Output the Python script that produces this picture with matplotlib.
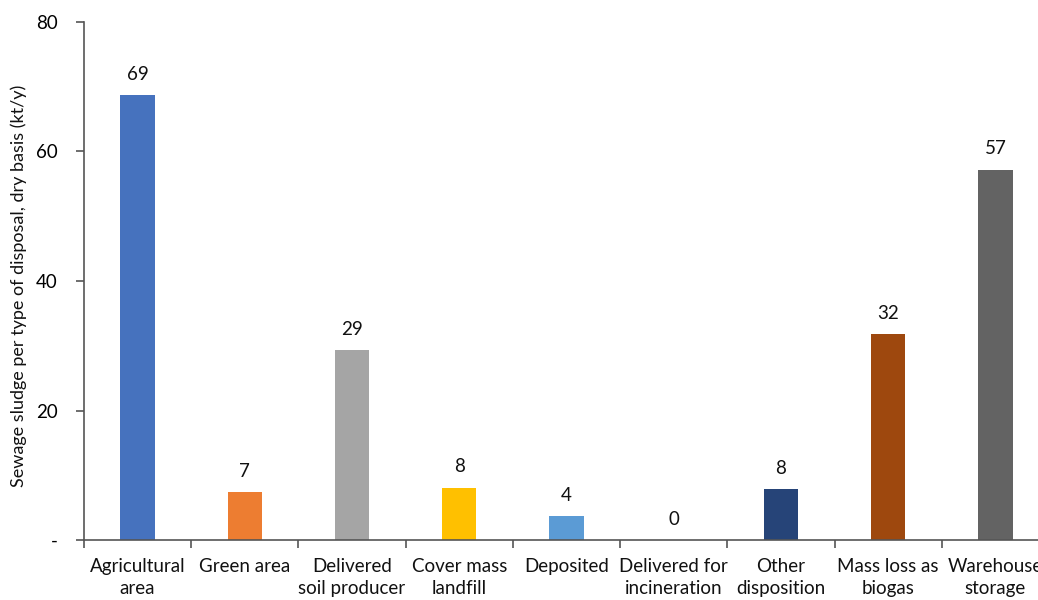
import numpy as np
import matplotlib
matplotlib.use('Agg')
import matplotlib.pyplot as plt

categories = ['Agricultural\narea', 'Green area', 'Delivered\nsoil producer', 'Cover mass\nlandfill',
              'Deposited', 'Delivered for\nincineration', 'Other\ndisposition', 'Mass loss as\nbiogas',
              'Warehouse\nstorage']
sludge = [68.7, 7.4, 29.3, 8.1, 3.7, 0.0, 7.8, 31.8, 57.2]
colors = ['#4672BE', '#ED7D31', '#A5A5A5', '#FFC000', '#5B9BD5', '#70AD47', '#264478', '#9E480E', '#636363']
yticks = [0, 20, 40, 60, 80]
ytick_labels = ['-', '20', '40', '60', '80']

plt.rcParams['font.family'] = ['Lato', 'DejaVu Sans']

fig = plt.figure(figsize=(10.38, 6.0), dpi=100)
ax = fig.add_axes([84 / 1038, 60 / 600, 965 / 1038, 518 / 600])

x = np.arange(len(categories))
bars = ax.bar(x, sludge, width=0.32, color=colors, zorder=2)
for xi, v in zip(x, sludge):
    ax.text(xi, v + 1.9, f'{v:.0f}', ha='center', va='bottom', fontsize=13.5, color='#111111')

ax.set_xlim(-0.5, len(categories) - 0.5)
ax.set_ylim(0, 80)
ax.set_yticks(yticks)
ax.set_yticklabels(ytick_labels, fontsize=13.5)
ax.set_xticks(x)
ax.set_xticklabels(categories, fontsize=13.5, linespacing=1.38, color='#111111')
ax.tick_params(axis='x', length=0, pad=13)
ax.set_xticks(np.arange(len(categories) + 1) - 0.5, minor=True)
ax.tick_params(axis='x', which='minor', length=6, color='#555555', width=1.2)
ax.tick_params(axis='y', length=6, color='#555555', width=1.2, pad=13)

for side in ['top', 'right']:
    ax.spines[side].set_visible(False)
for side in ['left', 'bottom']:
    ax.spines[side].set_color('#555555')
    ax.spines[side].set_linewidth(1.2)

ax.set_ylabel('Sewage sludge per type of disposal, dry basis (kt/y)', fontsize=13, color='#111111')
ax.yaxis.set_label_coords(-57 / 965, 0.49)

fig.savefig('out.png', dpi=100)
